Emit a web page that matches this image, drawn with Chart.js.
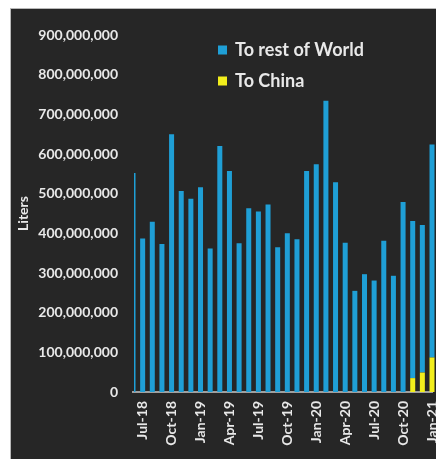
<!DOCTYPE html>
<html>
<head>
<meta charset="utf-8">
<script src="https://cdn.jsdelivr.net/npm/chart.js@4.4.1/dist/chart.umd.min.js"></script>
<style>
  html, body { margin: 0; padding: 0; background: #ffffff; overflow: hidden; width: 436px; height: 459px; }
  #wrap {
    position: absolute; left: 10px; top: 8px;
    border-left: 1px solid #b8b8b8; border-top: 1px solid #b8b8b8;
    background: #262626; width: 470px; height: 450px;
  }
</style>
</head>
<body>
<div id="wrap"><canvas id="litersChart" width="470" height="450"></canvas></div>
<script>
// monthly exports, Jun-18 .. Jan-21 (Jun-18 is cut off at the left edge)
const months = [
  "Jun-18", "Jul-18", "Aug-18", "Sep-18", "Oct-18", "Nov-18", "Dec-18",
  "Jan-19", "Feb-19", "Mar-19", "Apr-19", "May-19", "Jun-19", "Jul-19",
  "Aug-19", "Sep-19", "Oct-19", "Nov-19", "Dec-19", "Jan-20", "Feb-20",
  "Mar-20", "Apr-20", "May-20", "Jun-20", "Jul-20", "Aug-20", "Sep-20",
  "Oct-20", "Nov-20", "Dec-20", "Jan-21",
];

const toChina = [
  null, null, null, null, null, null, null,
  null, null, null, null, null, null, null,
  null, null, null, null, null, null, null,
  null, null, null, null, null, null, null,
  null, 35000000, 49000000, 87000000,
];

const toRestOfWorld = [
  552000000, 387000000, 429000000, 373000000, 650000000, 507000000, 487000000,
  516000000, 362000000, 620000000, 557000000, 375000000, 463000000, 455000000,
  473000000, 365000000, 400000000, 385000000, 557000000, 574000000, 734000000,
  529000000, 376000000, 255000000, 297000000, 281000000, 381000000, 293000000,
  479000000, 396000000, 372000000, 537000000,
];

const yTicks = [0, 100000000, 200000000, 300000000, 400000000, 500000000,
  600000000, 700000000, 800000000, 900000000];

const textColor = "#e8e8e8";
const fontFamily = "Lato, 'Liberation Sans', sans-serif";

// legend drawn inside the plot, stacked vertically at top left
const sideLegend = {
  id: "sideLegend",
  afterDraw(chart) {
    const ctx = chart.ctx;
    const items = [chart.data.datasets[1], chart.data.datasets[0]];
    ctx.save();
    ctx.font = "bold 18px " + fontFamily;
    ctx.textBaseline = "middle";
    items.forEach((ds, i) => {
      const y = 41 + i * 31;
      ctx.fillStyle = ds.backgroundColor;
      ctx.fillRect(207, y - 4.5, 9, 9);
      ctx.fillStyle = textColor;
      ctx.fillText(ds.label, 224, y);
    });
    ctx.restore();
  },
};

const ctx = document.getElementById("litersChart").getContext("2d");

new Chart(ctx, {
  type: "bar",
  data: {
    labels: months,
    datasets: [
      {
        label: "To China",
        data: toChina,
        backgroundColor: "#f2ee1c",
        categoryPercentage: 1,
        barPercentage: 0.52,
        clip: { left: -1, right: false, top: false, bottom: false },
      },
      {
        label: "To rest of World",
        data: toRestOfWorld,
        backgroundColor: "#1f9fd6",
        categoryPercentage: 1,
        barPercentage: 0.52,
        clip: { left: -1, right: false, top: false, bottom: false },
      },
    ],
  },
  options: {
    responsive: false,
    animation: false,
    layout: { padding: { left: 0, top: 26, right: 49, bottom: 0 } },
    plugins: {
      legend: { display: false },
      tooltip: { enabled: false },
    },
    scales: {
      x: {
        stacked: true,
        offset: false,
        grid: { display: false, drawTicks: false },
        border: { display: true, color: "#a0a0a0", width: 2 },
        ticks: {
          autoSkip: false,
          maxRotation: 90,
          minRotation: 90,
          padding: 9,
          color: textColor,
          font: { family: fontFamily, size: 14, weight: "bold" },
          callback: (value, index) => ((index - 1) % 3 === 0 ? months[index] : ""),
        },
        afterFit: (scale) => { scale.height = 67; },
      },
      y: {
        stacked: true,
        min: 0,
        max: 900000000,
        grid: { display: false, drawTicks: false },
        border: { display: false },
        afterBuildTicks: (scale) => { scale.ticks = yTicks.map((v) => ({ value: v })); },
        ticks: {
          padding: 15,
          color: textColor,
          font: { family: fontFamily, size: 14, weight: "bold" },
          callback: (value) => value.toLocaleString("en-US"),
        },
        title: {
          display: true,
          text: "Liters",
          color: textColor,
          font: { family: fontFamily, size: 14, weight: "bold" },
          padding: { top: 4, bottom: 0 },
        },
        afterFit: (scale) => { scale.width = 122; },
      },
    },
  },
  plugins: [sideLegend],
});
</script>
</body>
</html>
